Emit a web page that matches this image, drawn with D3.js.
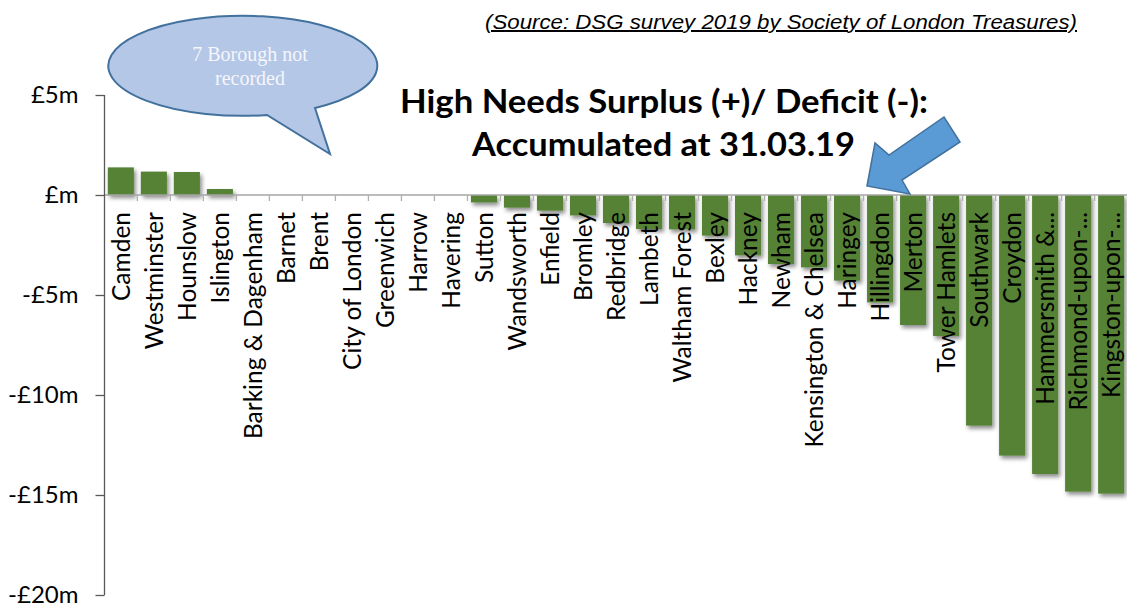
<!DOCTYPE html>
<html>
<head>
<meta charset="utf-8">
<script src="https://cdnjs.cloudflare.com/ajax/libs/d3/7.8.5/d3.min.js"></script>
<style>
html,body{margin:0;padding:0;background:#fff;}
svg{display:block;}
</style>
</head>
<body>
<svg id="chart" width="1127" height="604"></svg>
<script>
// ---- data ----
const boroughs = ["Camden","Westminster","Hounslow","Islington","Barking & Dagenham","Barnet","Brent","City of London","Greenwich","Harrow","Havering","Sutton","Wandsworth","Enfield","Bromley","Redbridge","Lambeth","Waltham Forest","Bexley","Hackney","Newham","Kensington & Chelsea","Haringey","Hillingdon","Merton","Tower Hamlets","Southwark","Croydon","Hammersmith &...","Richmond-upon-...","Kingston-upon-..."];
// £m, null = not recorded
const balances = [1.38,1.17,1.15,0.30,null,null,null,null,null,null,null,-0.37,-0.63,-0.78,-1.02,-1.40,-1.70,-1.72,-2.03,-3.02,-3.45,-3.62,-4.28,-5.37,-6.50,-7.05,-11.53,-13.03,-13.95,-14.83,-14.93];
const yTicks = [5,0,-5,-10,-15,-20];
const titleLines = ["High Needs Surplus (+)/ Deficit (-):","Accumulated at 31.03.19"];
const sourceText = "(Source: DSG survey 2019 by Society of London Treasures)";
const calloutLines = ["7 Borough not","recorded"];

const svg = d3.select("#chart");
const defs = svg.append("defs");
const f = defs.append("filter").attr("id","shadow").attr("x","-20%").attr("y","-20%").attr("width","160%").attr("height","160%");
f.append("feDropShadow").attr("dx",2).attr("dy",3).attr("stdDeviation",2).attr("flood-color","#000").attr("flood-opacity",0.45);

const x = d3.scaleBand().domain(boroughs).range([104.5,1127.5]).paddingInner(0.21).paddingOuter(0.1);
const y = d3.scaleLinear().domain([-20,5]).range([595,95]);

// bars
const data = boroughs.map((b,i)=>({b, v: balances[i]})).filter(d=>d.v!==null);
svg.append("g").attr("filter","url(#shadow)")
  .selectAll("rect").data(data).join("rect")
  .attr("x",d=>x(d.b))
  .attr("width",x.bandwidth())
  .attr("y",d=>y(Math.max(0,d.v)))
  .attr("height",d=>Math.abs(y(d.v)-y(0)))
  .attr("fill","#548235");

// x axis line with category ticks
const step = x.step();
const xAxis = svg.append("g");
xAxis.append("line").attr("x1",104.5).attr("x2",1127).attr("y1",y(0)).attr("y2",y(0))
  .attr("stroke","#a6a6a6").attr("stroke-width",1.3);
const edges = boroughs.map(b => x(b) + x.bandwidth()/2 - step/2);
xAxis.selectAll("line.t").data(edges.slice(1)).join("line").attr("class","t")
  .attr("x1",d=>d).attr("x2",d=>d).attr("y1",y(0)).attr("y2",y(0)+6)
  .attr("stroke","#b0b0b0").attr("stroke-width",1.3);

// category labels
svg.append("g").selectAll("text").data(boroughs).join("text")
  .attr("transform",d=>`translate(${x(d)+x.bandwidth()/2},212) rotate(-90)`)
  .attr("text-anchor","end").attr("dy","0.36em")
  .attr("font-family","Lato, 'Open Sans', sans-serif").attr("font-size",24.5)
  .attr("fill","#000").text(d=>d);

// y axis
const yAxis = svg.append("g").attr("transform","translate(104.5,0)")
  .call(d3.axisLeft(y).tickValues(yTicks).tickSize(9).tickPadding(17)
    .tickFormat(v=> v===0 ? "£m" : (v<0 ? "-£"+Math.abs(v)+"m" : "£"+v+"m")));
yAxis.select(".domain").attr("stroke","#595959").attr("stroke-width",1.3).attr("d","M0,95V595");
yAxis.selectAll(".tick line").attr("stroke","#595959").attr("stroke-width",1.3);
yAxis.selectAll(".tick text").attr("font-family","Lato, 'Open Sans', sans-serif").attr("font-size",24).attr("fill","#000").attr("dy","0.3em");

// source
svg.append("text").attr("x",485).attr("y",29)
  .attr("font-family","'Liberation Sans', Arial, sans-serif").attr("font-style","italic")
  .attr("font-size",20).attr("text-decoration","underline")
  .attr("textLength",592).attr("lengthAdjust","spacingAndGlyphs").text(sourceText);

// title
const tl = [{t:titleLines[0], x:400, y:113, w:528},{t:titleLines[1], x:472, y:156, w:383}];
svg.append("g").selectAll("text").data(tl).join("text")
  .attr("x",d=>d.x).attr("y",d=>d.y)
  .attr("font-family","Lato, 'Open Sans', sans-serif").attr("font-weight","bold").attr("font-size",32)
  .attr("textLength",d=>d.w).attr("lengthAdjust","spacingAndGlyphs").text(d=>d.t);

// callout bubble
const rx=134.5, ry=50;
svg.append("path")
  .attr("d",`M315,108 L330,154 L267,115 A${rx},${ry} 0 1 1 315,108 Z`)
  .attr("fill","#b4c7e7").attr("stroke","#41719c").attr("stroke-width",2);
svg.append("g").selectAll("text").data(calloutLines).join("text")
  .attr("x",250).attr("y",(d,i)=>61+i*24)
  .attr("text-anchor","middle").attr("font-family","'Liberation Serif', 'Times New Roman', serif")
  .attr("font-size",20).attr("fill","#f4f6fb").text(d=>d);

// block arrow
svg.append("path")
  .attr("d","M867,186 L875,143 L889,155 L944,117 L960,142 L902,180 L910,194 Z")
  .attr("fill","#5b9bd5").attr("stroke","#41719c").attr("stroke-width",1.5);
</script>
</body>
</html>
